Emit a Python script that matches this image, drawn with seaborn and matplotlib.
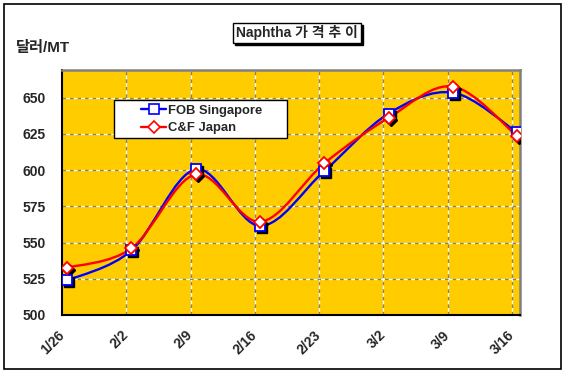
import matplotlib
matplotlib.use("Agg")
import matplotlib.pyplot as plt
import matplotlib.transforms as mtransforms
from matplotlib.path import Path
from matplotlib.patches import PathPatch, Rectangle
from matplotlib.lines import Line2D
import seaborn as sns
import pandas as pd
import numpy as np

dates = ["1/26", "2/2", "2/9", "2/16", "2/23", "3/2", "3/9", "3/16"]
fob_singapore = [523.8, 544.5, 600.5, 561.5, 599.3, 638.9, 653.4, 625.9]
cf_japan = [532.6, 546.0, 597.0, 564.3, 604.6, 636.0, 657.6, 623.4]
yticks = [500, 525, 550, 575, 600, 625, 650]

sns.set_theme(style="white")
plt.rcParams['font.family'] = ['Liberation Sans', 'Noto Sans CJK KR', 'DejaVu Sans']
plt.rcParams['font.weight'] = 'bold'

W, H = 566, 373
fig = plt.figure(figsize=(W / 100, H / 100), dpi=100)
fig.patch.set_facecolor('white')
fig.patches.append(Rectangle((4/W, 1-369/H), 557/W, 365/H, transform=fig.transFigure,
                             fill=False, edgecolor='black', linewidth=1.2))

AX_L, AX_R, AX_T, AX_B = 62, 520, 70, 315
ax = fig.add_axes([AX_L/W, 1-AX_B/H, (AX_R-AX_L)/W, (AX_B-AX_T)/H])
ax.set_facecolor('#FFCC00')

def ax_frac(px, py):
    return ((px - AX_L) / (AX_R - AX_L), (AX_B - py) / (AX_B - AX_T))

x = np.arange(len(dates))
df = pd.DataFrame({"x": np.concatenate([x, x]),
                   "price": fob_singapore + cf_japan,
                   "series": ["FOB Singapore"] * len(x) + ["C&F Japan"] * len(x)})

off = -0.08
ax.set_xlim(off, 7.045)
ax.set_ylim(500, 669)

for k in range(1, len(dates)):
    ax.axvline(k + off, color='#808080', lw=0.9, ls=(0, (3, 3)), zorder=1)
    ax.axvline(k + off, color='white', lw=0.9, ls=(3, (3, 3)), zorder=1)
for v in yticks[1:]:
    ax.axhline(v, color='#808080', lw=0.9, ls=(0, (3, 3)), zorder=1)
    ax.axhline(v, color='white', lw=0.9, ls=(3, (3, 3)), zorder=1)

def smooth_path(xs, ys):
    pts = np.column_stack([xs, ys]).astype(float)
    n = len(pts)
    verts = [pts[0]]
    codes = [Path.MOVETO]
    for i in range(n - 1):
        p0 = pts[i - 1] if i > 0 else pts[i]
        p1 = pts[i]
        p2 = pts[i + 1]
        p3 = pts[i + 2] if i + 2 < n else pts[i + 1]
        c1 = p1 + (p2 - p0) / 6.0
        c2 = p2 - (p3 - p1) / 6.0
        verts += [c1, c2, p2]
        codes += [Path.CURVE4] * 3
    return Path(verts, codes)

names = ["FOB Singapore", "C&F Japan"]
colors = {"FOB Singapore": "#0000FF", "C&F Japan": "#FF0000"}
markers = {"FOB Singapore": "s", "C&F Japan": "D"}
msize = {"FOB Singapore": 7, "C&F Japan": 6}

for name in names:
    sub = df[df.series == name]
    ax.add_patch(PathPatch(smooth_path(sub.x.values, sub.price.values), fill=False,
                           edgecolor=colors[name], lw=1.7, zorder=3))

shadow = mtransforms.offset_copy(ax.transData, fig=fig, x=2, y=-2, units='dots')
for name in names:
    sub = df[df.series == name]
    ax.plot(sub.x, sub.price, ls='none', marker=markers[name], ms=msize[name],
            mfc='black', mec='black', transform=shadow, zorder=4)

sns.lineplot(data=df, x="x", y="price", hue="series", style="series",
             palette=colors, markers=markers, dashes=False, lw=0, ax=ax,
             markersize=7, markerfacecolor='white', markeredgewidth=1.3, zorder=5,
             legend=False)
for line, name in zip(ax.lines[-2:], names):
    line.set_markersize(msize[name])
    line.set_markeredgecolor(colors[name])

bx0, by0 = ax_frac(114, 138)
bx1, by1 = ax_frac(287, 100)
ax.add_patch(Rectangle((bx0, by0), bx1 - bx0, by1 - by0, transform=ax.transAxes,
                       facecolor='white', edgecolor='black', lw=1.0, zorder=9))
handles = [Line2D([], [], color=colors[n], lw=1.7, marker=markers[n], ms=msize[n],
                  mfc='white', mec=colors[n], mew=1.2) for n in names]
leg = ax.legend(handles, names, loc='center left', bbox_to_anchor=ax_frac(141, 119.5),
                borderaxespad=0, borderpad=0, frameon=False,
                handlelength=1.95, handletextpad=0.15, labelspacing=0.38,
                prop={'weight': 'bold', 'size': 9.4})
leg.set_zorder(10)

ax.set_xticks([k + off for k in range(len(dates))])
ax.set_xticklabels(dates, rotation=45, ha='right', va='center', rotation_mode='anchor',
                   fontsize=10, fontweight='bold')
shift = mtransforms.ScaledTranslation(-8 / 100, 0, fig.dpi_scale_trans)
for lab in ax.get_xticklabels():
    lab.set_transform(lab.get_transform() + shift)
ax.set_yticks(yticks)
ax.set_yticklabels([str(v) for v in yticks], fontsize=10, fontweight='bold')
ax.tick_params(axis='y', length=0, pad=11.5)
ax.tick_params(axis='x', length=0, pad=13)
ax.set_xlabel("")
ax.set_ylabel("")

for side in ['left', 'bottom']:
    ax.spines[side].set_color('black')
    ax.spines[side].set_linewidth(1.5)
for side in ['top', 'right']:
    ax.spines[side].set_color('#808080')
    ax.spines[side].set_linewidth(1.8)

fig.patches.append(Rectangle((235/W, 1-45/H), 128/W, 20/H, transform=fig.transFigure,
                             facecolor='black', edgecolor='black'))
fig.patches.append(Rectangle((233/W, 1-43/H), 128/W, 20/H, transform=fig.transFigure,
                             facecolor='white', edgecolor='black', linewidth=1.0))
fig.text(297/W, 1-33/H, "Naphtha 가 격 추 이", ha='center', va='center',
         fontsize=10, fontweight='bold')
fig.text(16/W, 1-48/H, "달러/MT", ha='left', va='center', fontsize=11, fontweight='bold')

fig.savefig("out.png", dpi=100)
